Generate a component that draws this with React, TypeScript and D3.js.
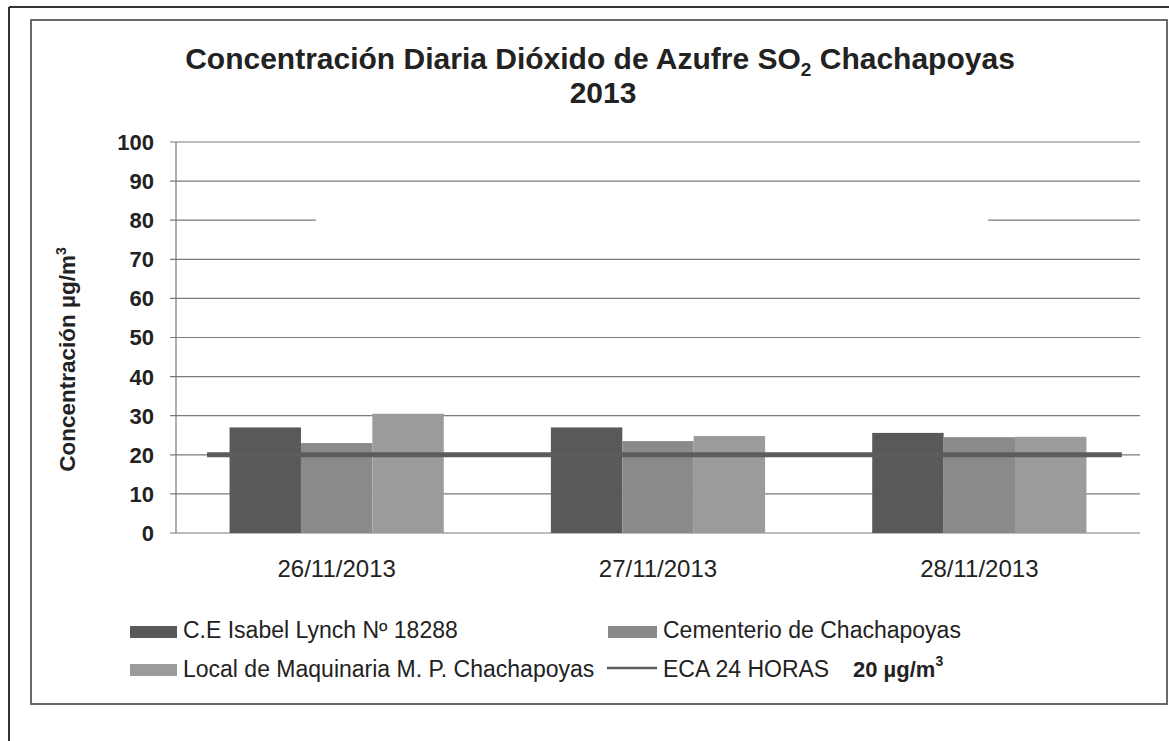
import React from 'react';
import * as d3 from 'd3';

const dates = ['26/11/2013', '27/11/2013', '28/11/2013'];
const seriesNames = ['C.E Isabel Lynch Nº 18288', 'Cementerio de Chachapoyas', 'Local de Maquinaria M. P. Chachapoyas'];
const isabelLynch = [27, 27, 25.6];
const cementerio = [23, 23.5, 24.5];
const localMaquinaria = [30.5, 24.8, 24.6];
const ecaLimit = 20;
const yTicks = [0, 10, 20, 30, 40, 50, 60, 70, 80, 90, 100];

const colors = ['#595959', '#8a8a8a', '#9b9b9b'];
const ecaColor = '#5c5c5c';
const font = '"Liberation Sans", Arial, sans-serif';

const W = 1169, H = 741;
const plot = { left: 176, right: 1140, top: 142, bottom: 533 };

export default function App() {
  const series = [isabelLynch, cementerio, localMaquinaria];

  const x = d3.scaleBand<string>()
    .domain(dates)
    .range([plot.left, plot.right])
    .paddingInner(1 / 3)
    .paddingOuter(1 / 6);

  const inner = d3.scaleBand<number>()
    .domain(d3.range(series.length))
    .range([0, x.bandwidth()]);

  const y = d3.scaleLinear().domain([0, 100]).range([plot.bottom, plot.top]);

  const step = x.step();
  const ecaX1 = (x(dates[0]) as number) - step * 0.07;
  const ecaX2 = (x(dates[dates.length - 1]) as number) + x.bandwidth() + step * 0.11;

  return (
    <div style={{ position: 'fixed', left: 0, top: 0 }}>
      <svg width={W} height={H} style={{ display: 'block', background: '#fff' }} fontFamily={font}>
        {/* page frames */}
        <line x1={9} x2={W} y1={7} y2={7} stroke="#333" strokeWidth={2} />
        <line x1={9} x2={9} y1={7} y2={H} stroke="#333" strokeWidth={2} />
        <rect x={31} y={20} width={1136} height={684} fill="none" stroke="#6a6a6a" strokeWidth={2} />

        {/* title */}
        <text x={600} y={69} textAnchor="middle" fontSize={30} fontWeight="bold" fill="#222">
          Concentración Diaria Dióxido de Azufre SO
          <tspan fontSize={19} dy={7}>2</tspan>
          <tspan dy={-7}> Chachapoyas</tspan>
        </text>
        <text x={603} y={103} textAnchor="middle" fontSize={30} fontWeight="bold" fill="#222">2013</text>

        {/* gridlines */}
        {yTicks.map(t => (
          <line key={t} x1={plot.left - 6} x2={plot.right} y1={y(t)} y2={y(t)}
            stroke="#7a7a7a" strokeWidth={1.2}
            strokeDasharray={t === 80 ? `${146} ${672} ${400}` : undefined} />
        ))}
        <line x1={plot.left} x2={plot.left} y1={plot.top} y2={plot.bottom} stroke="#7a7a7a" strokeWidth={1.2} />

        {/* y tick labels */}
        {yTicks.map(t => (
          <text key={t} x={154} y={y(t)} dy="0.36em" textAnchor="end" fontSize={22} fontWeight="bold" fill="#222">{t}</text>
        ))}

        {/* y axis title */}
        <text transform={`translate(75, ${(plot.top + plot.bottom) / 2 + 22}) rotate(-90)`} textAnchor="middle"
          fontSize={22.5} fontWeight="bold" fill="#222">
          Concentración µg/m<tspan fontSize={14} dy={-9}>3</tspan>
        </text>

        {/* bars */}
        {dates.map((d, i) => (
          <g key={d} transform={`translate(${x(d)},0)`}>
            {series.map((s, j) => (
              <rect key={j} x={inner(j)} y={y(s[i])} width={inner.bandwidth()} height={y(0) - y(s[i])} fill={colors[j]} />
            ))}
          </g>
        ))}

        {/* ECA line */}
        <line x1={ecaX1} x2={ecaX2} y1={y(ecaLimit)} y2={y(ecaLimit)} stroke={ecaColor} strokeWidth={5} />

        {/* x labels */}
        {dates.map(d => (
          <text key={d} x={(x(d) as number) + x.bandwidth() / 2} y={577} textAnchor="middle" fontSize={24} fill="#222">{d}</text>
        ))}

        {/* legend */}
        <g fontSize={23} fill="#222">
          <rect x={130} y={626} width={47} height={12} fill={colors[0]} />
          <text x={183} y={638}>{seriesNames[0]}</text>
          <rect x={608} y={626} width={49} height={12} fill={colors[1]} />
          <text x={663} y={638}>{seriesNames[1]}</text>
          <rect x={130} y={664} width={47} height={12} fill={colors[2]} />
          <text x={183} y={677}>{seriesNames[2]}</text>
          <line x1={607} x2={657} y1={668} y2={668} stroke={ecaColor} strokeWidth={2.5} />
          <text x={663} y={677}>ECA 24 HORAS</text>
          <text x={853} y={677} fontSize={22} fontWeight="bold">20 µg/m<tspan fontSize={14} dy={-11}>3</tspan></text>
        </g>
      </svg>
    </div>
  );
}
